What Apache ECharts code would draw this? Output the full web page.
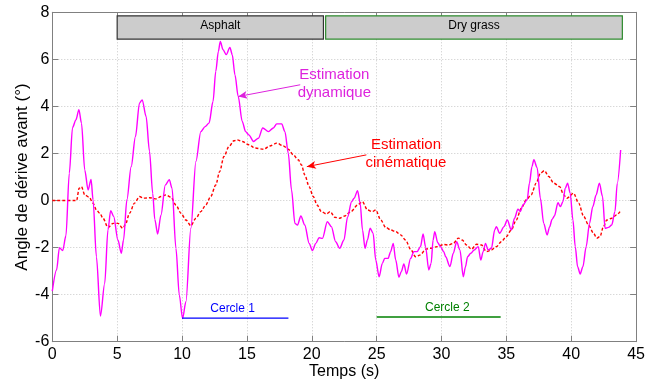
<!DOCTYPE html>
<html>
<head>
<meta charset="utf-8">
<script src="https://cdn.jsdelivr.net/npm/echarts@6/dist/echarts.min.js"></script>
<style>
html,body{margin:0;padding:0;background:#fff;}
#chart{width:648px;height:385px;}
</style>
</head>
<body>
<div id="chart"></div>
<script>
// ---- Data ----
const xTicks = [0, 5, 10, 15, 20, 25, 30, 35, 40, 45];
const yTicks = [-6, -4, -2, 0, 2, 4, 6, 8];

const dynTime = [0, 0.33, 0.55, 0.8, 1.05, 1.31, 1.56, 1.82, 2.05, 2.25, 2.5, 2.76, 2.99, 3.14, 3.4, 3.71, 4.04, 4.29, 4.5, 4.73, 5.06, 5.32, 5.49, 5.75, 6.08, 6.41, 6.72, 6.93, 7.23, 7.49, 7.74, 7.9, 8.12, 8.38, 8.71, 9.02, 9.23, 9.53, 9.79, 10.04, 10.3, 10.68, 11.07, 11.45, 11.78, 12.08, 12.39, 12.6, 12.8, 12.95, 13.16, 13.41, 13.69, 13.87, 14.08, 14.33, 14.64, 14.9, 15.15, 15.51, 15.89, 16.22, 16.66, 17.04, 17.3, 17.68, 17.93, 18.19, 18.44, 18.7, 18.9, 19.16, 19.46, 19.8, 20.05, 20.31, 20.57, 20.82, 21.2, 21.51, 21.84, 22.15, 22.48, 22.76, 23.07, 23.27, 23.53, 23.73, 23.91, 24.11, 24.29, 24.5, 24.73, 24.93, 25.19, 25.44, 25.62, 25.88, 26.08, 26.28, 26.47, 26.72, 26.9, 27.1, 27.31, 27.62, 27.87, 28.12, 28.38, 28.58, 28.77, 29.02, 29.2, 29.35, 29.48, 29.71, 29.92, 30.17, 30.32, 30.65, 30.91, 31.17, 31.42, 31.68, 31.85, 32.01, 32.26, 32.52, 32.83, 33.03, 33.21, 33.39, 33.59, 33.85, 34.1, 34.23, 34.48, 34.82, 35.07, 35.38, 35.63, 35.89, 36.07, 36.28, 36.6, 36.78, 36.97, 37.12, 37.37, 37.62, 37.88, 38.14, 38.34, 38.52, 38.7, 38.98, 39.16, 39.36, 39.54, 39.72, 39.92, 40.13, 40.31, 40.49, 40.69, 40.9, 41.15, 41.41, 41.66, 41.92, 42.17, 42.41, 42.61, 42.87, 43.12, 43.37, 43.55, 43.81];
const dynAngle = [-3.85, -2.95, -2.0, -2.13, -1.5, 1.16, 3.1, 3.43, 3.86, 3.29, 1.3, 0.45, 0.9, 0.03, -2.39, -4.91, -3.52, -1.25, -0.43, -0.68, -1.68, -2.24, -1.68, 0.03, 1.44, 2.72, 4.14, 4.28, 3.57, 2.1, 0.3, -0.8, -1.42, -0.61, 0.66, 0.88, 0.52, -2.03, -4.02, -5.01, -4.3, -1.18, 1.66, 2.93, 3.14, 3.29, 4.21, 5.49, 6.34, 6.76, 6.41, 6.2, 6.51, 6.2, 5.34, 4.42, 3.36, 2.93, 2.79, 2.51, 2.65, 3.08, 2.93, 3.08, 3.26, 3.26, 2.93, 2.01, 0.45, -0.97, -1.04, -0.66, -1.04, -1.82, -2.13, -1.82, -1.58, -1.61, -0.9, -1.11, -1.75, -2.03, -1.68, -0.7, -0.05, 0.1, 0.42, -0.11, -1.25, -2.03, -1.68, -1.18, -1.39, -2.53, -3.24, -2.67, -2.46, -2.46, -2.17, -1.82, -2.53, -3.26, -3.02, -2.7, -3.12, -2.46, -2.17, -2.17, -1.96, -1.42, -1.96, -2.95, -2.67, -1.68, -1.32, -1.79, -1.96, -2.17, -2.39, -2.81, -2.24, -1.75, -2.1, -3.24, -2.81, -2.39, -2.24, -2.1, -1.96, -2.53, -2.17, -1.82, -2.1, -2.03, -1.25, -1.11, -1.39, -1.11, -0.83, -1.25, -0.75, -0.37, -0.47, -0.19, 0.03, 0.74, 1.44, 1.73, 1.4, 0.1, -0.97, -1.46, -1.11, -0.8, -0.66, -0.09, -0.26, -0.05, 0.52, 0.74, 0.31, -0.83, -1.96, -2.81, -3.12, -2.81, -1.96, -0.97, -0.26, 0.24, 0.74, 0.17, -1.18, -1.14, -1.04, -0.47, 0.74, 2.15];

const kinTime = [0, 1.87, 2.07, 2.25, 2.5, 2.84, 3.14, 3.4, 3.66, 3.91, 4.29, 4.68, 5.06, 5.44, 5.65, 5.95, 6.34, 6.72, 7.03, 7.49, 8.0, 8.38, 8.77, 9.15, 9.53, 9.92, 10.3, 10.68, 11.07, 11.45, 11.83, 12.21, 12.6, 12.9, 13.23, 13.62, 14.0, 14.25, 14.64, 15.15, 15.63, 16.28, 16.78, 17.3, 17.81, 18.19, 18.57, 18.96, 19.21, 19.46, 19.8, 20.11, 20.41, 20.74, 21.13, 21.43, 21.76, 22.15, 22.53, 23.02, 23.53, 23.91, 24.29, 24.67, 24.93, 25.32, 25.7, 26.08, 26.47, 26.85, 27.23, 27.62, 28.0, 28.38, 28.77, 29.15, 29.66, 30.17, 30.53, 30.91, 31.3, 31.6, 31.93, 32.31, 32.7, 33.08, 33.46, 33.85, 34.23, 34.61, 35.0, 35.38, 35.76, 36.15, 36.53, 36.91, 37.3, 37.62, 37.93, 38.27, 38.65, 39.11, 39.42, 39.67, 40.18, 40.57, 40.95, 41.33, 41.72, 41.97, 42.22, 42.48, 42.74, 43.12, 43.5, 43.76];
const kinAngle = [0, 0, 0.52, 0.59, 0.24, 0.14, -0.11, -0.4, -0.54, -0.75, -1.15, -0.97, -0.97, -1.18, -1.0, -0.54, -0.11, 0.17, 0.1, 0.12, 0.07, 0.17, 0.24, 0.14, -0.19, -0.54, -0.83, -1.07, -0.75, -0.47, -0.19, 0.17, 0.66, 1.23, 1.87, 2.3, 2.54, 2.58, 2.51, 2.37, 2.23, 2.18, 2.32, 2.44, 2.32, 2.18, 1.94, 1.73, 1.51, 1.09, 0.59, 0.17, -0.19, -0.47, -0.57, -0.47, -0.71, -0.75, -0.66, -0.47, -0.19, -0.05, -0.4, -0.47, -0.4, -0.83, -1.14, -1.25, -1.32, -1.46, -1.68, -2.07, -2.39, -2.31, -2.07, -2.03, -1.96, -1.87, -1.89, -1.82, -1.6, -1.68, -1.89, -2.07, -1.86, -1.89, -2.17, -2.1, -1.96, -1.75, -1.53, -1.25, -0.83, -0.33, 0.03, 0.24, 0.74, 1.16, 1.27, 1.02, 0.74, 0.59, 0.24, 0.1, 0.31, -0.11, -0.66, -1.04, -1.39, -1.6, -1.53, -1.11, -0.83, -0.75, -0.61, -0.47];

// Surface bands: [label, start, end]
const surfaceLabels = ['Asphalt', 'Dry grass'];
const surfaceStart = [5, 21.07];
const surfaceEnd = [20.9, 43.94];
const surfaceLow = 6.86, surfaceHigh = 7.85;

// Circle manoeuvres
const circleLabels = ['Cercle 1', 'Cercle 2'];
const circleStart = [10, 25];
const circleEnd = [18.2, 34.56];
const circleLevel = [-5.0, -4.95];
const circleLabelPos = [[13.9, -4.6], [30.45, -4.55]];

// Annotations
const annDynText = 'Estimation\ndynamique';
const annDynPos = [21.74, 4.96];
const annDynArrow = [[19.11, 4.92], [14.33, 4.42]];
const annKinText = 'Estimation\ncinématique';
const annKinPos = [27.26, 1.98];
const annKinArrow = [[24.21, 1.94], [19.62, 1.44]];

// ---- Chart ----
const FONT = 'Liberation Sans, Arial, Helvetica, sans-serif';
const zip = (a, b) => a.map((v, i) => [v, b[i]]);
const chart = echarts.init(document.getElementById('chart'), null, {renderer: 'canvas'});

const axisCol = '#808080';
const gridLine = {show: true, lineStyle: {color: '#c8c8c8', type: [1, 2], width: 1}};

const option = {
  animation: false,
  textStyle: {fontFamily: FONT},
  grid: {left: 52.3, right: 8.5, top: 12.3, bottom: 43.3, containLabel: false},
  xAxis: [{
    type: 'value', min: 0, max: 45, interval: 5,
    name: 'Temps (s)', nameLocation: 'middle', nameGap: 22, nameMoveOverlap: false,
    nameTextStyle: {color: '#000', fontSize: 16, fontFamily: FONT},
    axisLine: {show: true, onZero: false, lineStyle: {color: axisCol}},
    axisTick: {show: true, inside: true, length: 6, lineStyle: {color: axisCol}},
    axisLabel: {color: '#000', fontSize: 16, margin: 5, fontFamily: FONT},
    splitLine: gridLine
  }, {
    type: 'value', min: 0, max: 45, interval: 5, position: 'top',
    axisLine: {show: true, onZero: false, lineStyle: {color: axisCol}},
    axisTick: {show: true, inside: true, length: 6, lineStyle: {color: axisCol}},
    axisLabel: {show: false}, splitLine: {show: false}
  }],
  yAxis: [{
    type: 'value', min: -6, max: 8, interval: 2,
    name: 'Angle de dérive avant (°)', nameLocation: 'middle', nameGap: 21.5, nameRotate: 90, nameMoveOverlap: false,
    nameTextStyle: {color: '#000', fontSize: 17, fontFamily: FONT},
    axisLine: {show: true, onZero: false, lineStyle: {color: axisCol}},
    axisTick: {show: true, inside: true, length: 6, lineStyle: {color: axisCol}},
    axisLabel: {color: '#000', fontSize: 16, margin: 3, fontFamily: FONT},
    splitLine: gridLine
  }, {
    type: 'value', min: -6, max: 8, interval: 2, position: 'right',
    axisLine: {show: true, onZero: false, lineStyle: {color: axisCol}},
    axisTick: {show: true, inside: true, length: 6, lineStyle: {color: axisCol}},
    axisLabel: {show: false}, splitLine: {show: false}
  }],
  series: [
    {
      name: 'surfaces', type: 'line', data: [], silent: true,
      markArea: {
        silent: true,
        data: surfaceLabels.map((lab, i) => [
          {name: lab, coord: [surfaceStart[i], surfaceHigh],
           itemStyle: {color: '#cccccc', borderColor: i === 0 ? '#333333' : '#2e8b2e', borderWidth: 1.2}},
          {coord: [surfaceEnd[i], surfaceLow]}
        ]),
        label: {show: true, position: 'inside', color: '#000', fontSize: 12, fontFamily: FONT, offset: [0, -2]}
      }
    },
    {
      name: 'Estimation cinématique', type: 'line', data: zip(kinTime, kinAngle),
      showSymbol: false, smooth: 0.3, smoothMonotone: 'x',
      lineStyle: {color: '#ff0000', width: 1.4, type: [3, 2]}, z: 3
    },
    {
      name: 'Estimation dynamique', type: 'line', data: zip(dynTime, dynAngle),
      showSymbol: false, smooth: 0.3, smoothMonotone: 'x',
      lineStyle: {color: '#ff00ff', width: 1.4}, z: 4,
      markLine: {
        silent: true, symbol: ['none', 'arrow'], symbolSize: [6, 9],
        label: {show: false},
        data: [
          [{coord: annDynArrow[0], lineStyle: {color: '#dd22dd', width: 1, type: 'solid'}}, {coord: annDynArrow[1]}],
          [{coord: annKinArrow[0], lineStyle: {color: '#ff0000', width: 1, type: 'solid'}}, {coord: annKinArrow[1]}]
        ]
      },
      markPoint: {
        silent: true, symbol: 'circle', symbolSize: 0,
        data: [
          {coord: annDynPos, label: {show: true, position: 'inside', formatter: annDynText, color: '#dd22dd', fontSize: 15, lineHeight: 18, align: 'center', fontFamily: FONT}},
          {coord: annKinPos, label: {show: true, position: 'inside', formatter: annKinText, color: '#ff0000', fontSize: 15, lineHeight: 18, align: 'center', fontFamily: FONT}},
          {coord: circleLabelPos[0], label: {show: true, position: 'inside', formatter: circleLabels[0], color: '#0000ff', fontSize: 12, fontFamily: FONT}},
          {coord: circleLabelPos[1], label: {show: true, position: 'inside', formatter: circleLabels[1], color: '#008000', fontSize: 12, fontFamily: FONT}}
        ]
      }
    },
    {
      name: circleLabels[0], type: 'line', showSymbol: false,
      data: [[circleStart[0], circleLevel[0]], [circleEnd[0], circleLevel[0]]],
      lineStyle: {color: '#0000ff', width: 1.4}, z: 5
    },
    {
      name: circleLabels[1], type: 'line', showSymbol: false,
      data: [[circleStart[1], circleLevel[1]], [circleEnd[1], circleLevel[1]]],
      lineStyle: {color: '#008000', width: 1.4}, z: 5
    }
  ]
};
chart.setOption(option);
</script>
</body>
</html>
